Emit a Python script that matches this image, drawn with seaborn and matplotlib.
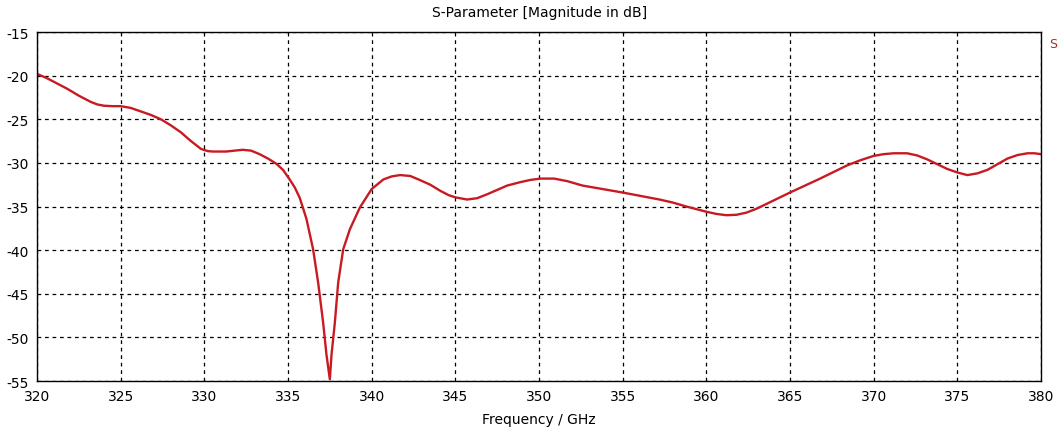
import numpy as np
import pandas as pd
import matplotlib
matplotlib.use("Agg")
import matplotlib.pyplot as plt
import seaborn as sns

# --- data (frequency in GHz, magnitude in dB) ---
freq_ghz = [320.0, 320.6, 321.2, 321.8, 322.5, 323.2, 323.6, 324.0, 324.5, 325.0,
            325.6, 326.2, 326.8, 327.4, 328.0, 328.6, 329.2, 329.8, 330.2, 330.5,
            331.3, 331.8, 332.3, 332.8, 333.3, 333.8, 334.3, 334.7, 335.1, 335.4,
            335.7, 336.1, 336.5, 336.8, 337.1, 337.3, 337.5, 337.6, 337.8, 338.0,
            338.3, 338.7, 339.3, 339.7, 340.0, 340.7, 341.2, 341.7, 342.3, 342.8,
            343.5, 344.1, 344.6, 345.0, 345.7, 346.3, 346.9, 347.5, 348.1, 348.9,
            349.5, 350.1, 350.9, 351.7, 352.6, 353.8, 355.0, 356.1, 357.2, 358.0,
            358.8, 359.4, 360.0, 360.6, 361.2, 361.8, 362.4, 363.0, 363.6, 365.0,
            365.9, 366.8, 367.6, 368.4, 369.2, 370.0, 370.6, 371.2, 372.0, 372.6,
            373.2, 373.8, 374.4, 375.0, 375.6, 376.2, 376.8, 377.4, 378.0, 378.6,
            379.2, 379.6, 380.0]
s11_db = [-19.8, -20.3, -20.9, -21.5, -22.3, -23.0, -23.3, -23.45, -23.5, -23.5,
          -23.7, -24.1, -24.5, -25.0, -25.7, -26.5, -27.5, -28.4, -28.65, -28.7,
          -28.7, -28.6, -28.5, -28.6, -29.0, -29.5, -30.1, -30.8, -31.9, -32.8,
          -34.0, -36.4, -39.9, -43.7, -48.3, -52.0, -54.8, -52.0, -48.3, -43.7,
          -39.9, -37.6, -35.1, -33.9, -33.0, -31.9, -31.55, -31.4, -31.5, -31.9,
          -32.5, -33.2, -33.7, -33.95, -34.2, -34.05, -33.6, -33.1, -32.6, -32.2,
          -31.95, -31.8, -31.8, -32.1, -32.6, -33.0, -33.4, -33.8, -34.2, -34.55,
          -35.0, -35.3, -35.6, -35.85, -36.0, -35.95, -35.7, -35.25, -34.7, -33.4,
          -32.6, -31.8, -31.05, -30.3, -29.7, -29.2, -29.0, -28.9, -28.9, -29.15,
          -29.6, -30.15, -30.7, -31.1, -31.4, -31.2, -30.8, -30.15, -29.5, -29.1,
          -28.9, -28.9, -29.0]

x_ticks = [320, 325, 330, 335, 340, 345, 350, 355, 360, 365, 370, 375, 380]
y_ticks = [-15, -20, -25, -30, -35, -40, -45, -50, -55]

df = pd.DataFrame({"Frequency": freq_ghz, "S11": s11_db})

sns.set_style("white")
plt.rcParams["font.family"] = ["DejaVu Sans"]
plt.rcParams["axes.unicode_minus"] = False
plt.rcParams["text.color"] = "black"

fig = plt.figure(figsize=(10.58, 4.35), dpi=100)
ax = fig.add_axes([37 / 1058, 1 - 382 / 435, (1041 - 37) / 1058, (382 - 33) / 435])

sns.lineplot(data=df, x="Frequency", y="S11", ax=ax, color="#c81a22",
             linewidth=1.7, sort=False)

ax.set_xlim(320, 380)
ax.set_ylim(-55, -15)
ax.set_xticks(x_ticks)
ax.set_yticks(y_ticks)
ax.tick_params(axis="both", direction="out", length=4, width=1, color="black",
               labelcolor="black", labelsize=10, pad=2)
ax.grid(True, color="black", linestyle=(0, (3, 3)), linewidth=0.9)
for sp in ax.spines.values():
    sp.set_color("black")
    sp.set_linewidth(1.0)

ax.set_xlabel("Frequency / GHz", fontsize=10, labelpad=6, color="black")
ax.set_ylabel("")
fig.text(0.51, 1 - 13 / 435, "S-Parameter [Magnitude in dB]", ha="center",
         va="center", fontsize=10, color="black")
# legend entry that sits at the right border
fig.text(1057 / 1058, 1 - 45 / 435, "S", ha="right", va="center",
         fontsize=9, color="#a0302a")

fig.savefig("out.png", dpi=100)
